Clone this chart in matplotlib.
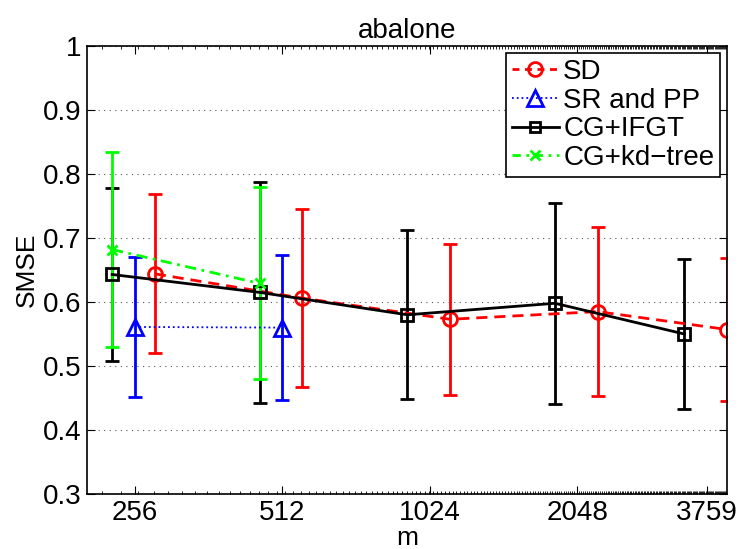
import numpy as np
import matplotlib
matplotlib.use("Agg")
import matplotlib.pyplot as plt
from matplotlib.lines import Line2D
from matplotlib.ticker import FixedLocator, NullFormatter

plt.rcParams['font.family'] = ['Liberation Sans', 'DejaVu Sans']

# m values (training subset sizes)
m_vals = [256, 512, 1024, 2048, 3759]
m_labels = ['256', '512', '1024', '2048', '3759']

# SD
sd_mean = [0.644, 0.606, 0.573, 0.585, 0.557]
sd_err = [0.124, 0.139, 0.118, 0.132, 0.112]
# SR and PP (only the two smallest m)
sr_m = [256, 512]
sr_mean = [0.561, 0.560]
sr_err = [0.110, 0.113]
# CG+IFGT
ifgt_mean = [0.643, 0.615, 0.580, 0.598, 0.550]
ifgt_err = [0.135, 0.173, 0.132, 0.157, 0.117]
# CG+kd-tree
kd_m = [256, 512]
kd_mean = [0.682, 0.629]
kd_err = [0.153, 0.150]

fig = plt.figure(figsize=(7.4, 5.49), dpi=100)
ax = fig.add_axes([0.1176, 0.1002, 0.8648, 0.816])

def shift(xs, f):
    return [x * f for x in xs]

common = dict(linewidth=2, elinewidth=2, capsize=5, capthick=2, mfc='none', mew=2)

ax.errorbar(shift(m_vals, 1.1), sd_mean, yerr=sd_err, color='#ff0000', ls='--',
            marker='o', ms=10, dashes=(4, 2.5), **common)
ax.errorbar(sr_m, sr_mean, yerr=sr_err, color='#0000ff', ls=':', marker='^', ms=12,
            linewidth=1.3, elinewidth=2, capsize=5, capthick=2, mfc='none', mew=2)
ax.errorbar(shift(m_vals, 0.9), ifgt_mean, yerr=ifgt_err, color='black', ls='-',
            marker='s', ms=8, **common)
ax.errorbar(shift(kd_m, 0.9), kd_mean, yerr=kd_err, color='#00ff00', ls='-.',
            marker='x', ms=7, dashes=(4, 2, 1, 2), **common)

ax.set_xscale('log', base=2)
ax.set_xlim(0.8 * 256, 1.1 * 3759)
ax.set_ylim(0.3, 1.0)
ax.set_xticks(m_vals)
ax.set_xticklabels(m_labels)
minor = [x for x in range(220, 4140, 20)]
ax.xaxis.set_minor_locator(FixedLocator(minor))
ax.xaxis.set_minor_formatter(NullFormatter())
yt = [0.3, 0.4, 0.5, 0.6, 0.7, 0.8, 0.9, 1.0]
ax.set_yticks(yt)
ax.set_yticklabels(['0.3', '0.4', '0.5', '0.6', '0.7', '0.8', '0.9', '1'])
ax.yaxis.grid(True, linestyle=(0, (1, 4)), color='#555555', linewidth=0.8)
ax.tick_params(which='both', direction='in', top=True, right=True, labelsize=20)
ax.tick_params(which='major', length=6)
ax.tick_params(which='minor', length=2)
ax.tick_params(axis='x', pad=4)
ax.tick_params(axis='y', pad=4)
for s in ax.spines.values():
    s.set_linewidth(1.2)

ax.set_title('abalone', fontsize=20, pad=6)
ax.set_xlabel('m', fontsize=19, labelpad=0)
ax.set_ylabel('SMSE', fontsize=19, labelpad=3)

handles = [
    Line2D([], [], color='#ff0000', ls='--', dashes=(2.5, 2), lw=2, marker='o', ms=10, mfc='none', mew=2),
    Line2D([], [], color='#0000ff', ls=':', lw=1.3, marker='^', ms=12, mfc='none', mew=2),
    Line2D([], [], color='black', ls='-', lw=2, marker='s', ms=7, mfc='none', mew=2),
    Line2D([], [], color='#00ff00', ls='-.', dashes=(3, 2, 1, 2), lw=2, marker='x', ms=7, mfc='none', mew=2),
]
labels = ['SD', 'SR and PP', 'CG+IFGT', 'CG+kd\u2212tree']
leg = ax.legend(handles, labels, loc='upper right', bbox_to_anchor=(0.989, 0.984),
                borderaxespad=0, fontsize=20, fancybox=False, framealpha=1,
                edgecolor='black', handlelength=1.7, handletextpad=0.15,
                labelspacing=0.1, borderpad=0.2)
leg.get_frame().set_linewidth(1.2)

fig.savefig('out.png', dpi=100)
